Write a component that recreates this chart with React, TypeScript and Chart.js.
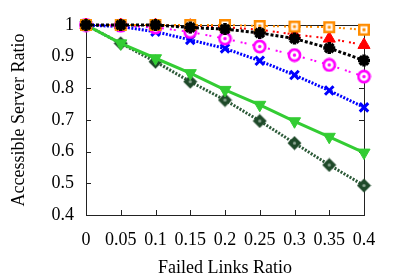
import React, { useEffect, useRef } from "react";
import { Chart, registerables } from "chart.js";

Chart.register(...registerables);

const xLabels = ["0", "0.05", "0.1", "0.15", "0.2", "0.25", "0.3", "0.35", "0.4"];
const yTicks = [0.4, 0.5, 0.6, 0.7, 0.8, 0.9, 1];

const orangeSeries = [1, 1, 1, 1, 1, 0.997, 0.995, 0.993, 0.985];
const redSeries = [1, 1, 1, 0.998, 0.993, 0.985, 0.97, 0.957, 0.937];
const blackSeries = [1, 1, 1, 0.992, 0.987, 0.975, 0.957, 0.927, 0.888];
const magentaSeries = [1, 0.998, 0.992, 0.978, 0.957, 0.932, 0.905, 0.874, 0.837];
const blueSeries = [1, 0.995, 0.979, 0.953, 0.926, 0.887, 0.842, 0.793, 0.74];
const greenSeries = [1, 0.942, 0.895, 0.848, 0.795, 0.748, 0.696, 0.647, 0.597];
const darkGreenSeries = [1, 0.942, 0.884, 0.821, 0.763, 0.697, 0.627, 0.558, 0.493];

const FONT = "'Liberation Serif', 'DejaVu Serif', serif";

function makeCanvas(size: number, draw: (ctx: CanvasRenderingContext2D, s: number) => void) {
  const c = document.createElement("canvas");
  c.width = size;
  c.height = size;
  const ctx = c.getContext("2d")!;
  draw(ctx, size);
  return c;
}

const framePlugin = {
  id: "frameTicks",
  beforeDatasetsDraw(chart: any) {
    const { ctx, chartArea } = chart;
    const { left, right, top, bottom } = chartArea;
    const xs = chart.scales.x;
    const ys = chart.scales.y;
    ctx.save();
    ctx.strokeStyle = "#222";
    ctx.lineWidth = 1;
    ctx.strokeRect(Math.round(left) + 0.5, Math.round(top) + 0.5, Math.round(right - left), Math.round(bottom - top));
    const tl = 5;
    ctx.beginPath();
    yTicks.forEach((v) => {
      const y = Math.round(ys.getPixelForValue(v)) + 0.5;
      ctx.moveTo(left, y);
      ctx.lineTo(left + tl, y);
      ctx.moveTo(right, y);
      ctx.lineTo(right - tl, y);
    });
    xLabels.forEach((_, i) => {
      const x = Math.round(xs.getPixelForValue(i)) + 0.5;
      ctx.moveTo(x, bottom);
      ctx.lineTo(x, bottom - tl);
      ctx.moveTo(x, top);
      ctx.lineTo(x, top + tl);
    });
    ctx.stroke();
    ctx.restore();
  },
};

export default function App() {
  const ref = useRef<HTMLCanvasElement>(null);

  useEffect(() => {
    const orangeSq = makeCanvas(14, (ctx) => {
      ctx.fillStyle = "#fff";
      ctx.fillRect(2, 2, 10, 10);
      ctx.strokeStyle = "#ff8c00";
      ctx.lineWidth = 2.5;
      ctx.strokeRect(2.25, 2.25, 9.5, 9.5);
      ctx.fillStyle = "#ff8c00";
      ctx.fillRect(5.5, 5.5, 3, 3);
    });
    const magCircle = makeCanvas(15, (ctx) => {
      ctx.beginPath();
      ctx.arc(7.5, 7.5, 5.6, 0, Math.PI * 2);
      ctx.fillStyle = "#fff";
      ctx.fill();
      ctx.strokeStyle = "#ff00ff";
      ctx.lineWidth = 2.6;
      ctx.stroke();
      ctx.beginPath();
      ctx.arc(7.5, 7.5, 1.7, 0, Math.PI * 2);
      ctx.fillStyle = "#ff00ff";
      ctx.fill();
    });
    const dgDiamond = makeCanvas(15, (ctx) => {
      ctx.beginPath();
      ctx.moveTo(7.5, 0.5);
      ctx.lineTo(14.5, 7.5);
      ctx.lineTo(7.5, 14.5);
      ctx.lineTo(0.5, 7.5);
      ctx.closePath();
      ctx.fillStyle = "#1f4a2a";
      ctx.fill();
      ctx.beginPath();
      ctx.arc(7.5, 7.5, 1.6, 0, Math.PI * 2);
      ctx.fillStyle = "#8fa896";
      ctx.fill();
    });

    const common = { fill: false, tension: 0, clip: false as any };
    const chart = new Chart(ref.current!, {
      type: "line",
      data: {
        labels: xLabels,
        datasets: [
          {
            ...common,
            data: blackSeries,
            borderColor: "#000",
            backgroundColor: "#000",
            borderWidth: 3,
            borderDash: [3, 2],
            pointStyle: "star",
            pointRadius: 6,
            pointBorderWidth: 3.5,
          },
          {
            ...common,
            data: orangeSeries,
            borderColor: "#ff8c00",
            backgroundColor: "#ff8c00",
            borderWidth: 2,
            borderDash: [2, 2, 2, 5],
            pointStyle: orangeSq as any,
          },
          {
            ...common,
            data: redSeries,
            borderColor: "#ff0000",
            backgroundColor: "#ff0000",
            borderWidth: 2,
            borderDash: [2, 2, 2, 5],
            pointStyle: "triangle",
            pointRadius: 7,
            pointBorderWidth: 1,
          },
          {
            ...common,
            data: magentaSeries,
            borderColor: "#ff00ff",
            backgroundColor: "#ff00ff",
            borderWidth: 2,
            borderDash: [2, 2, 2, 6],
            pointStyle: magCircle as any,
          },
          {
            ...common,
            data: blueSeries,
            borderColor: "#0000ff",
            backgroundColor: "#0000ff",
            borderWidth: 3,
            borderDash: [2, 1.5],
            pointStyle: "crossRot",
            pointRadius: 6,
            pointBorderWidth: 3,
          },
          {
            ...common,
            data: greenSeries,
            borderColor: "#33cc33",
            backgroundColor: "#33cc33",
            borderWidth: 3,
            pointStyle: "triangle",
            pointRotation: 180,
            pointRadius: 7,
            pointBorderWidth: 1,
          },
          {
            ...common,
            data: darkGreenSeries,
            borderColor: "#2c5a38",
            backgroundColor: "#2c5a38",
            borderWidth: 3,
            borderDash: [2, 1.5],
            pointStyle: dgDiamond as any,
          },
        ],
      },
      options: {
        animation: false,
        responsive: true,
        maintainAspectRatio: false,
        layout: { padding: { top: 25, right: 35, left: 0, bottom: 0 } },
        plugins: { legend: { display: false }, tooltip: { enabled: false } },
        scales: {
          x: {
            type: "category",
            offset: false,
            grid: { display: false, drawTicks: false },
            border: { display: false },
            ticks: {
              padding: 14,
              color: "#000",
              maxRotation: 0,
              autoSkip: false,
              font: { family: FONT, size: 18 },
            },
            title: {
              display: true,
              text: "Failed Links Ratio",
              color: "#000",
              font: { family: FONT, size: 18 },
              padding: { top: 0, bottom: 0 },
            },
            afterFit(scale: any) {
              scale.height = 64;
            },
          },
          y: {
            type: "linear",
            min: 0.4,
            max: 1,
            grid: { display: false, drawTicks: false },
            border: { display: false },
            ticks: {
              stepSize: 0.1,
              padding: 12,
              color: "#000",
              font: { family: FONT, size: 18 },
              callback: (v: any) => String(Number(Number(v).toFixed(2))),
            },
            title: {
              display: true,
              text: "Accessible Server Ratio",
              color: "#000",
              font: { family: FONT, size: 18 },
              padding: { top: 8, bottom: 0 },
            },
            afterFit(scale: any) {
              scale.width = 86;
            },
          },
        },
      },
      plugins: [framePlugin],
    });
    return () => chart.destroy();
  }, []);

  return (
    <div style={{ position: "absolute", left: 0, top: 0, width: 399, height: 279, background: "#fff" }}>
      <canvas ref={ref} />
    </div>
  );
}
